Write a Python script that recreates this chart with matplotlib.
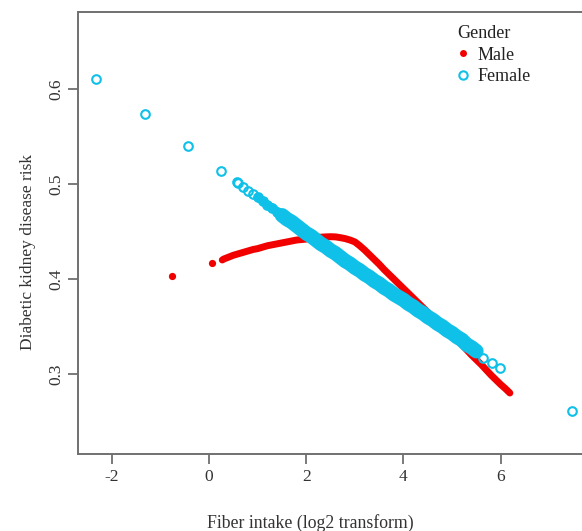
import matplotlib
matplotlib.use('Agg')
import matplotlib.pyplot as plt
from matplotlib.lines import Line2D
import numpy as np

# values
male_x = [-0.76, 0.06, 0.27, 0.3, 0.4, 0.5, 0.6, 0.7, 0.8, 0.9, 1.0, 1.1, 1.2, 1.3, 1.4, 1.5,
          1.6, 1.7, 1.8, 1.9, 2.0, 2.1, 2.2, 2.3, 2.4, 2.5, 2.6, 2.7, 2.8, 2.9, 3.0,
          3.1, 3.2, 3.3, 3.4, 3.5, 3.6, 3.7, 3.8, 3.9, 4.0, 4.1, 4.2, 4.3, 4.4, 4.5,
          4.6, 4.7, 4.8, 4.9, 5.0, 5.1, 5.2, 5.3, 5.4, 5.5, 5.6, 5.7, 5.8, 5.9, 6.0,
          6.1, 6.19]
male_y = [0.403, 0.417, 0.420, 0.421, 0.423, 0.425, 0.4265, 0.428, 0.4295, 0.431, 0.432,
          0.4335, 0.435, 0.436, 0.437, 0.438, 0.439, 0.440, 0.441, 0.4415, 0.442, 0.443,
          0.4435, 0.444, 0.4443, 0.4445, 0.4443, 0.4435, 0.4425, 0.441, 0.439,
          0.435, 0.4305, 0.4255, 0.4205, 0.4155, 0.410, 0.405, 0.400, 0.395, 0.390,
          0.385, 0.380, 0.375, 0.370, 0.365, 0.360, 0.355, 0.350, 0.345, 0.340,
          0.3355, 0.331, 0.3255, 0.320, 0.315, 0.310, 0.3045, 0.299, 0.294, 0.289,
          0.2845, 0.280]

female_x = [-2.33, -1.32, -0.43, 0.25, 0.57, 0.6, 0.7, 0.8, 0.9, 1.0, 1.1, 1.2, 1.3, 1.4,
            1.5, 1.6, 1.7, 1.8, 1.9, 2.0, 2.1, 2.2, 2.3, 2.4, 2.5, 2.6, 2.7, 2.8, 2.9,
            3.0, 3.1, 3.2, 3.3, 3.4, 3.5, 3.6, 3.7, 3.8, 3.9, 4.0, 4.1, 4.2, 4.3, 4.4,
            4.5, 4.6, 4.7, 4.8, 4.9, 5.0, 5.1, 5.2, 5.3, 5.4, 5.5, 5.64, 5.82, 5.99, 7.47]
female_y = [0.6105, 0.574, 0.540, 0.514, 0.502, 0.501, 0.497, 0.493, 0.489, 0.486, 0.482,
            0.478, 0.475, 0.471, 0.467, 0.463, 0.460, 0.456, 0.452, 0.448, 0.445, 0.441,
            0.437, 0.434, 0.430, 0.427, 0.423, 0.419, 0.416, 0.412, 0.409, 0.405, 0.402,
            0.398, 0.395, 0.391, 0.388, 0.384, 0.381, 0.378, 0.374, 0.371, 0.367, 0.364,
            0.360, 0.357, 0.353, 0.350, 0.346, 0.343, 0.339, 0.336, 0.331, 0.328, 0.324,
            0.317, 0.312, 0.306, 0.261]

x_ticks = [-2, 0, 2, 4, 6]
y_ticks = [0.3, 0.4, 0.5, 0.6]

red = '#f20000'
cyan = '#0fc0e8'
grey = '#707070'

plt.rcParams['font.family'] = ['Liberation Serif', 'DejaVu Serif']

fig = plt.figure(figsize=(5.82, 5.31), dpi=100)
ax = fig.add_axes([78 / 582, 77 / 531, 513 / 582, 442 / 531])

# male curve first, female band drawn over it
mx = np.array(male_x)
my = np.array(male_y)
ax.plot(mx[2:], my[2:], color=red, lw=5, solid_capstyle='round', zorder=2)
ax.plot(mx[:2], my[:2], ls='none', marker='o', ms=5.2, color=red, mec='none', zorder=2)

fx = np.array(female_x)
fy = np.array(female_y)
# overlapping circles form a band: thinner where the points are sparse
thin = (fx >= 1.0) & (fx <= 1.6)
thick = (fx >= 1.5) & (fx <= 5.5)
ax.plot(fx[thin], fy[thin], color=cyan, lw=6, solid_capstyle='round', zorder=3)
ax.plot(fx[thick], fy[thick], color=cyan, lw=10.5, solid_capstyle='round', zorder=3)
ax.plot(fx, fy, ls='none', marker='o', ms=6.2, mfc='none', mec=cyan, mew=1.5, zorder=3)

ax.set_xlim(-2.70, 7.86)
ax.set_ylim(0.2158, 0.681)
ax.set_xticks(x_ticks)
ax.set_xticklabels([str(t) for t in x_ticks])
ax.set_yticks(y_ticks)
ax.set_yticklabels([str(t) for t in y_ticks], rotation=90, va='center')
for s in ax.spines.values():
    s.set_color(grey)
    s.set_linewidth(1.4)
ax.tick_params(direction='out', length=7, width=1.3, color=grey, labelsize=12.5,
               labelcolor='#333333')
ax.tick_params(axis='y', pad=3)
ax.tick_params(axis='x', pad=4)
ax.set_xlabel('Fiber intake (log2 transform)', fontsize=12.8, color='#333333', labelpad=21)
ax.set_ylabel('Diabetic kidney disease risk', fontsize=12.5, color='#333333', labelpad=9)
ax.xaxis.label.set_x((310 - 78) / 513)
ax.yaxis.label.set_y(1 - (252 - 12) / 442)

handles = [Line2D([], [], ls='none', marker='o', ms=5, color=red, mec='none'),
           Line2D([], [], ls='none', marker='o', ms=6, mfc='none', mec=cyan, mew=1.5)]
leg = fig.legend(handles, ['Male', 'Female'], title='Gender', loc='upper left',
                 bbox_to_anchor=(457 / 582, 1 - 25 / 531), frameon=False,
                 fontsize=13, title_fontsize=13, handlelength=0.7, handletextpad=0.45,
                 labelspacing=0.25, borderpad=0, borderaxespad=0)
leg._legend_box.align = 'left'
for t in leg.get_texts():
    t.set_color('#222222')
leg.get_title().set_color('#222222')

fig.savefig('out.png', dpi=100)
